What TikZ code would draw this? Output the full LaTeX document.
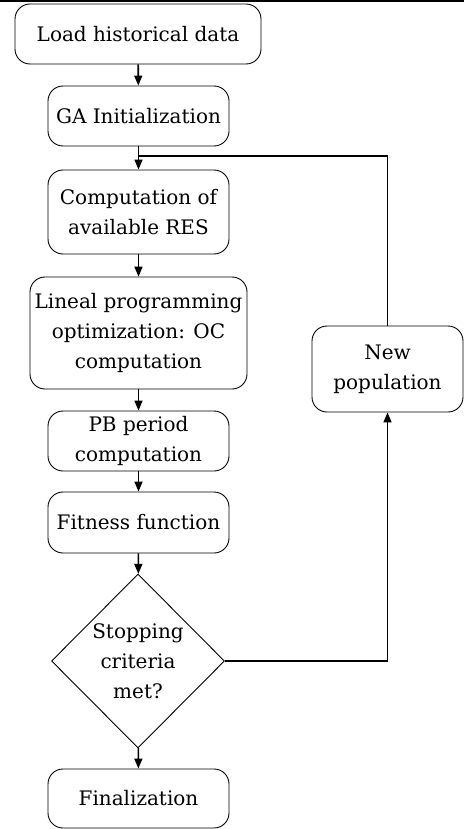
\documentclass[tikz,border=0pt]{standalone}
\usepackage{fontspec}
\setmainfont{DejaVu Serif}
\usetikzlibrary{shapes.geometric,arrows.meta}
\begin{document}
\begin{tikzpicture}[x=1pt,y=-1pt,
  box/.style={draw, rounded corners=15pt, line width=0.9pt, align=center,
    font=\fontsize{20}{30}\selectfont, inner sep=0pt},
  decision/.style={draw, diamond, line width=0.9pt, align=center,
    font=\fontsize{20}{30}\selectfont, inner sep=0pt},
  flow/.style={line width=1.6pt, -{Triangle[length=10pt,width=8pt]}},
  link/.style={line width=1.6pt}]
\useasboundingbox (0,0) rectangle (464,829);
% rule across the top edge
\fill (0,0) rectangle (464,2);

% main column
\node[box, minimum width=246, minimum height=60] (load) at (138,34) {Load historical data};
\node[box, minimum width=181, minimum height=60] (init) at (138.5,116) {GA Initialization};
\node[box, minimum width=181, minimum height=84] (res) at (138.5,212) {Computation of\\available RES};
\node[box, minimum width=217, minimum height=112] (lp) at (138.5,333) {Lineal programming\\optimization: OC\\computation};
\node[box, minimum width=181, minimum height=60] (pb) at (138.5,441) {PB period\\computation};
\node[box, minimum width=181, minimum height=61] (fit) at (138.5,522.5) {Fitness function};
\node[decision, minimum width=173, minimum height=174] (stop) at (138,661) {Stopping\\criteria\\met?};
\node[box, minimum width=181, minimum height=59] (fin) at (138.5,798.5) {Finalization};

% loop-back branch
\node[box, minimum width=151, minimum height=86] (newpop) at (387.5,369) {New\\population};
\coordinate (join) at (138.5,156);

% connectors
\draw[flow] (load) -- (init);
\draw[flow] (init) -- (res);
\draw[flow] (res) -- (lp);
\draw[flow] (lp) -- (pb);
\draw[flow] (pb) -- (fit);
\draw[flow] (fit) -- (stop);
\draw[flow] (stop) -- (fin);
\draw[flow] (stop.east) -| (newpop.south);
\draw[link] (newpop.north) |- (join);
\end{tikzpicture}
\end{document}
